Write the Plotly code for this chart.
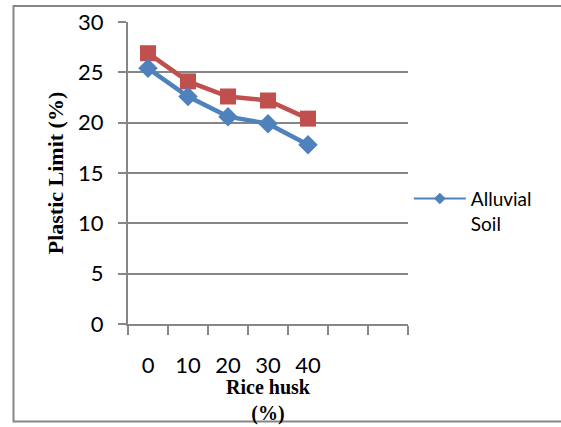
import plotly.graph_objects as go

categories = ["0", "10", "20", "30", "40", " ", "  "]
x_vals = ["0", "10", "20", "30", "40"]
alluvial = [25.4, 22.6, 20.6, 19.9, 17.8]
second = [26.9, 24.1, 22.6, 22.2, 20.4]

BLUE = "#4F81BD"
RED = "#C0504D"
GRID = "#868686"
TICKFONT = dict(family="Lato, Carlito, Calibri, sans-serif", size=22, color="#000000")
TITLEFONT = dict(family="Liberation Serif, Times New Roman, serif", size=21, color="#000000")

fig = go.Figure()
fig.add_trace(go.Scatter(
    x=x_vals, y=second, mode="lines+markers", name="Series 2", showlegend=False,
    line=dict(color=RED, width=4.5),
    marker=dict(symbol="square", size=16, color=RED),
))
fig.add_trace(go.Scatter(
    x=x_vals, y=alluvial, mode="lines+markers", name="Alluvial Soil", showlegend=False,
    legendgroup="alluvial",
    line=dict(color=BLUE, width=4.5),
    marker=dict(symbol="diamond", size=15, color=BLUE),
))
# legend entry for the Alluvial Soil series (thin line, small marker as in reference)
fig.add_trace(go.Scatter(
    x=[None], y=[None], mode="lines+markers", name="Alluvial<br>Soil",
    legendgroup="alluvial", showlegend=True,
    line=dict(color=BLUE, width=2),
    marker=dict(symbol="diamond", size=9, color=BLUE),
))

fig.update_layout(
    width=561, height=427,
    margin=dict(l=128, r=153, t=22, b=103),
    paper_bgcolor="white", plot_bgcolor="white",
    showlegend=True,
    legend=dict(x=1.003, y=0.478, xanchor="left", yanchor="top", valign="top",
                itemwidth=52,
                font=dict(family="Lato, Carlito, Calibri, sans-serif", size=19, color="#000000"),
                bgcolor="rgba(0,0,0,0)", borderwidth=0),
    xaxis=dict(
        type="category", categoryorder="array", categoryarray=categories,
        range=[-0.5, 6.5], tickson="boundaries", automargin=False,
        showgrid=False, showline=True, linecolor=GRID, linewidth=2,
        ticks="outside", ticklen=9, tickcolor=GRID, tickwidth=2,
        tickfont=TICKFONT, ticklabelstandoff=21,
        zeroline=False,
    ),
    yaxis=dict(
        range=[0, 30], dtick=5, tick0=0, automargin=False,
        showgrid=True, gridcolor=GRID, gridwidth=2,
        showline=True, linecolor=GRID, linewidth=2,
        ticks="outside", ticklen=8, tickcolor=GRID, tickwidth=2,
        tickfont=TICKFONT, ticklabelstandoff=10,
        title=dict(text="<b>Plastic Limit (%)</b>", font=dict(family="Liberation Serif, Times New Roman, serif", size=22, color="#000000"), standoff=8),
        zeroline=False,
    ),
    annotations=[
        dict(text="<b>Rice husk<br>(%)</b>", xref="paper", yref="paper", x=0.5, y=(324 - 426.5) / 302,
             xanchor="center", yanchor="bottom", showarrow=False,
             font=dict(family="Liberation Serif, Times New Roman, serif", size=20, color="#000000")),
    ],
    shapes=[dict(type="rect", xref="paper", yref="paper",
                 x0=(13.5 - 128) / 280, x1=(580 - 128) / 280,
                 y0=(324 - 421.5) / 302, y1=(324 - 6) / 302,
                 line=dict(color=GRID, width=2), fillcolor="rgba(0,0,0,0)", layer="below")],
)

fig.write_html("out.html")
